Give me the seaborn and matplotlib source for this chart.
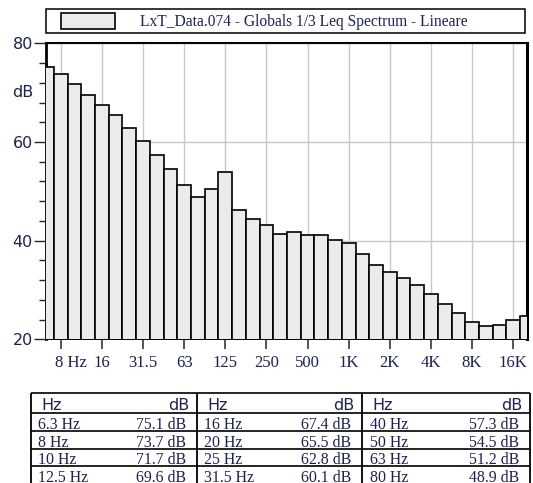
import matplotlib
matplotlib.use("Agg")
import matplotlib.pyplot as plt
import matplotlib.transforms as mtrans
from matplotlib.patches import Rectangle
import numpy as np
import pandas as pd
import seaborn as sns

# bande 1/3 di ottava e livelli Leq (dB)
bande = ["6.3", "8", "10", "12.5", "16", "20", "25", "31.5", "40", "50", "63", "80",
         "100", "125", "160", "200", "250", "315", "400", "500", "630", "800",
         "1K", "1.25K", "1.6K", "2K", "2.5K", "3.15K", "4K", "5K", "6.3K", "8K",
         "10K", "12.5K", "16K", "20K"]
livelli = [75.1, 73.7, 71.7, 69.6, 67.4, 65.5, 62.8, 60.1, 57.3, 54.5, 51.2, 48.9,
           50.4, 53.9, 46.2, 44.4, 43.2, 41.4, 41.7, 41.1, 41.1, 40.2,
           39.6, 37.2, 35.1, 33.6, 32.5, 31.0, 29.2, 27.1, 25.4, 23.5,
           22.6, 23.0, 23.9, 24.8]
tick_pos = [1, 4, 7, 10, 13, 16, 19, 22, 25, 28, 31, 34]
tick_lab = ["8 Hz", "16", "31.5", "63", "125", "250", "500", "1K", "2K", "4K", "8K", "16K"]
y_major = [20, 40, 60, 80]
y_minor = [v for v in range(24, 80, 4) if v % 20]
titolo = "LxT_Data.074 - Globals 1/3 Leq Spectrum - Lineare"

# tabella: prime 12 bande, 3 gruppi da 4 righe
tab_hz = ["6.3 Hz", "8 Hz", "10 Hz", "12.5 Hz", "16 Hz", "20 Hz", "25 Hz", "31.5 Hz",
          "40 Hz", "50 Hz", "63 Hz", "80 Hz"]
tab_db = livelli[:12]

BLU = "#1c2150"
SERIF = "Liberation Serif"
SANS = "DejaVu Sans"

sns.set_style("white")
plt.rcParams["font.family"] = [SANS]

W, H = 533, 483
fig = plt.figure(figsize=(W / 100, H / 100), dpi=100)
ax = fig.add_axes([46 / W, 1 - 339.3 / H, 480.7 / W, 296 / H])

df = pd.DataFrame({"banda": bande, "dB": livelli})
sns.barplot(data=df, x="banda", y="dB", color="#ebebeb", saturation=1, width=1.0,
            edgecolor="black", linewidth=1.2, ax=ax)

ax.set_xlim(-0.07, 34.98)
ax.set_ylim(20, 80)
ax.set_xlabel("")
ax.set_ylabel("")

ax.set_yticks(y_major, [str(v) for v in y_major])
ax.set_yticks(y_minor, minor=True)
ax.set_xticks(tick_pos, tick_lab)

ax.tick_params(axis="y", which="major", direction="out", length=8.4, width=1.0,
               pad=1, labelsize=11.5, labelcolor=BLU, left=True)
ax.tick_params(axis="y", which="minor", direction="out", length=4.8, width=1.0, left=True)
ax.tick_params(axis="x", which="major", direction="out", length=7.5, width=1.1,
               pad=3.5, labelsize=12, labelcolor=BLU, bottom=True)
for lab in ax.get_xticklabels():
    lab.set_fontfamily(SERIF)
# "8 Hz": il numero centrato sul tick, "Hz" a destra
primo = ax.get_xticklabels()[0]
primo.set_horizontalalignment("left")
primo.set_transform(primo.get_transform() + mtrans.ScaledTranslation(-4.3 / 72, 0, fig.dpi_scale_trans))

ax.grid(True, which="major", color="#c8c8c8", linewidth=1.0)
ax.set_axisbelow(True)
for lato, lw in [("left", 2.0), ("right", 2.2), ("top", 1.5), ("bottom", 1.4)]:
    ax.spines[lato].set_visible(True)
    ax.spines[lato].set_color("black")
    ax.spines[lato].set_linewidth(lw)
    ax.spines[lato].set_zorder(0.9)

ax.annotate("dB", xy=(0, 70), xycoords=("axes fraction", "data"), xytext=(-9.4, 0),
            textcoords="offset points", ha="right", va="center", fontsize=11.5, color=BLU)

# legenda con riquadro
ax.legend([ax.patches[0]], [titolo], loc="center left",
          bbox_to_anchor=(61 / W, 1 - 21.5 / H), bbox_transform=fig.transFigure,
          frameon=False, borderpad=0, borderaxespad=0, handlelength=3.5,
          handleheight=1.16, handletextpad=1.6,
          prop={"family": SERIF, "size": 11.2}, labelcolor=BLU)
fig.add_artist(Rectangle((45.7 / W, 1 - 33.3 / H), 479.3 / W, 24 / H,
                         transform=fig.transFigure, fill=False, ec="black", lw=1.1))

# tabella sotto il grafico (coordinate in pixel)
tab = fig.add_axes([31 / W, 1 - 484.4 / H, 499 / W, 91.1 / H])
tab.set_xlim(0, 499)
tab.set_ylim(91.1, 0)
tab.axis("off")
fondi = [0, 20, 37.7, 55.4, 73.1, 90.8]
gruppi = [0, 166, 331.5, 499]
tab.hlines(fondi, 0, 499, color="black", lw=1.2, clip_on=False)
tab.vlines(gruppi, 0, 91.1, color="black", lw=1.3, clip_on=False)
for g in range(3):
    x0, x1 = gruppi[g], gruppi[g + 1]
    tab.text(x0 + 10, 16.7, "Hz", family=SANS, fontsize=11.5, color=BLU, va="baseline")
    tab.text(x1 - 8, 16.7, "dB", family=SANS, fontsize=11.5, color=BLU, va="baseline", ha="right")
    for r in range(4):
        i = g * 4 + r
        yb = fondi[r + 2] - 2
        tab.text(x0 + 7.5, yb, tab_hz[i], family=SERIF, fontsize=11.4, color=BLU, va="baseline")
        tab.text(x1 - 11, yb, f"{tab_db[i]:.1f} dB", family=SERIF, fontsize=11.4,
                 color=BLU, va="baseline", ha="right")

fig.savefig("out.png", dpi=100)
